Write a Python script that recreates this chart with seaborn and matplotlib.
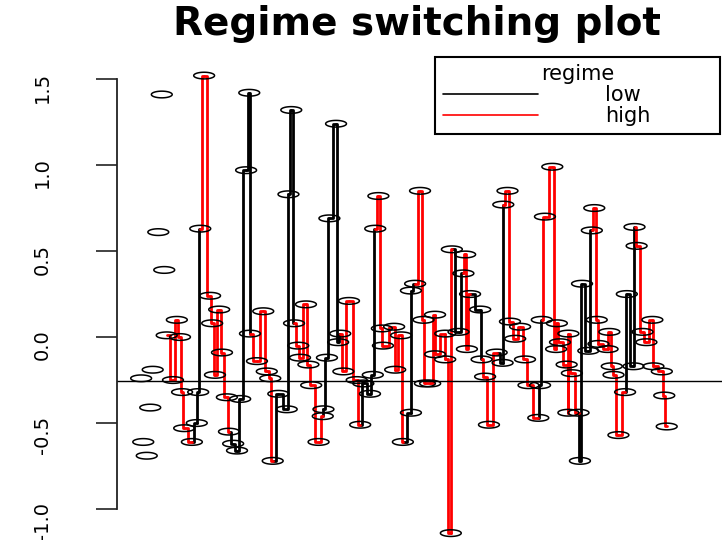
import numpy as np
import pandas as pd
import matplotlib
matplotlib.use("Agg")
import matplotlib.pyplot as plt
from matplotlib.path import Path
import seaborn as sns

t = [0.0, 0.6, 1.6, 2.6, 3.3, 4.9, 5.9, 6.6, 7.3, 9.1,
     10.2, 11.1, 11.7, 12.3, 14.5, 15.9, 16.3, 16.9, 18.0, 19.7,
     20.3, 21.1, 22.3, 23.1, 24.5, 25.1, 26.3, 27.4, 28.3, 30.0,
     30.9, 31.1, 33.1, 34.9, 35.9, 36.9, 37.6, 39.2, 41.6, 42.1,
     42.9, 43.7, 44.9, 45.4, 47.1, 47.8, 48.6, 50.7, 51.9, 52.1,
     53.1, 53.8, 55.7, 56.3, 56.9, 57.8, 59.4, 61.6, 62.6, 63.5,
     65.4, 66.2, 66.9, 67.8, 68.8, 69.1, 72.3, 72.6, 74.3, 74.8,
     77.1, 77.1, 78.3, 79.7, 80.7, 81.1, 82.6, 84.0, 84.0, 86.9,
     86.9, 88.5, 88.8, 90.7, 92.1, 92.6, 93.1, 94.0, 96.9, 97.3,
     98.3, 99.4, 101.6, 103.3, 103.5, 104.7, 105.4, 106.9, 108.3, 109.7,
     110.7, 113.5, 114.0, 114.5, 115.4, 117.5, 118.6, 118.8, 119.7, 121.6,
     122.1, 122.1, 123.1, 125.0, 125.4, 126.0, 127.8, 128.8, 129.5, 130.2,
     130.7, 133.3, 133.8, 134.5, 135.0, 136.4, 138.3, 138.8, 140.7, 141.0,
     141.6, 143.3, 144.4, 146.1, 146.4, 148.8, 149.5, 150.2]

# observed values
value = [-0.24, -0.61, -0.69, -0.41, -0.19, 0.61, 1.41, 0.39, 0.01, -0.25,
         0.10, 0.00, -0.32, -0.53, -0.61, -0.50, -0.32, 0.63, 1.52, 0.24,
         0.08, -0.22, 0.16, -0.09, -0.35, -0.55, -0.62, -0.66, -0.36, 0.97,
         1.42, 0.02, -0.14, 0.15, -0.20, -0.24, -0.72, -0.33, -0.42, 0.83,
         1.32, 0.08, -0.05, -0.12, 0.19, -0.16, -0.28, -0.61, -0.46, -0.42,
         -0.12, 0.69, 1.24, -0.03, 0.02, -0.20, 0.21, -0.25, -0.51, -0.27,
         -0.33, -0.22, 0.63, 0.82, 0.05, -0.05, 0.06, -0.19, 0.01, -0.61,
         -0.44, 0.27, 0.31, 0.85, 0.10, -0.27, -0.27, 0.13, -0.10, 0.02,
         -0.13, -1.14, 0.51, 0.03, 0.37, 0.48, -0.07, 0.25, 0.16, -0.13,
         -0.23, -0.51, -0.09, -0.15, 0.77, 0.85, 0.09, -0.01, 0.06, -0.13,
         -0.28, -0.47, -0.28, 0.10, 0.70, 0.99, -0.07, 0.08, -0.03, -0.16,
         -0.44, 0.02, -0.21, -0.44, -0.72, 0.31, -0.08, 0.62, 0.75, 0.10,
         -0.04, -0.07, 0.03, -0.17, -0.22, -0.57, -0.32, 0.25, -0.17, 0.64,
         0.53, 0.03, -0.03, 0.10, -0.17, -0.20, -0.34, -0.52]

# regime of the step ending at each observation (None = no line drawn)
N, L, H = None, "low", "high"
regime = [N, N, N, N, N, N, N, N, N, H,
          H, H, H, H, H, L, L, L, H, H,
          H, H, H, H, H, H, L, L, L, L,
          L, L, H, H, H, H, H, L, L, L,
          L, L, H, H, H, H, H, H, H, L,
          L, L, L, L, L, H, H, H, H, L,
          L, L, L, H, H, H, H, H, H, H,
          L, L, L, H, H, H, H, H, H, H,
          H, H, H, L, L, H, H, H, L, L,
          H, H, H, L, L, H, H, H, H, H,
          H, H, L, L, H, H, H, H, H, H,
          H, H, H, H, L, L, L, L, H, H,
          H, H, H, H, H, H, H, L, L, L,
          H, H, H, H, H, H, H, H]

threshold = -0.255
regime_order = ["low", "high"]
regime_colors = {"low": "black", "high": "red"}

df = pd.DataFrame({"t": t, "value": value})

# one little 2-point step per observation, coloured by regime
rows = []
for i in range(1, len(t)):
    if regime[i] is None:
        continue
    rows.append({"seg": i, "t": t[i - 1], "value": value[i - 1], "regime": regime[i]})
    rows.append({"seg": i, "t": t[i], "value": value[i], "regime": regime[i]})
seg_df = pd.DataFrame(rows)

sns.set_style("white")
plt.rcParams["font.family"] = ["DejaVu Sans"]
plt.rcParams["text.color"] = "black"

fig = plt.figure(figsize=(7.22, 5.40), dpi=100)
ax = fig.add_axes([117 / 722, 0, 605 / 722, 483 / 540])

sns.lineplot(data=seg_df, x="t", y="value", hue="regime", hue_order=regime_order,
             palette=regime_colors, units="seg", estimator=None, sort=False,
             drawstyle="steps-mid", linewidth=2.0, ax=ax)

# open, wide ellipse markers like the stretched R circles
theta = np.linspace(0, 2 * np.pi, 60)
ellipse = Path(np.column_stack([np.cos(theta), 0.32 * np.sin(theta)]), closed=True)
sns.scatterplot(data=df, x="t", y="value", marker=ellipse, s=225,
                facecolor="none", edgecolor="black", linewidth=1.1,
                legend=False, ax=ax, zorder=3)

ax.axhline(threshold, color="black", lw=1)

ax.set_xlim(-6.9, 166)
ax.set_ylim(-1.18, 1.628)
ax.set_xlabel("")
ax.set_ylabel("")
ax.set_xticks([])
ax.set_yticks([-1.0, -0.5, 0.0, 0.5, 1.0, 1.5])
ax.set_yticklabels(["-1.0", "-0.5", "0.0", "0.5", "1.0", "1.5"])
ax.tick_params(axis="y", labelrotation=90, length=15, width=1.2, pad=32,
               labelsize=14, direction="out", left=True, colors="#222222",
               labelcolor="black")
for s in ["top", "right", "bottom"]:
    ax.spines[s].set_visible(False)
ax.spines["left"].set_bounds(-1.0, 1.5)
ax.spines["left"].set_linewidth(1.3)
ax.spines["left"].set_color("#222222")

# legend like R's legend box, top right
handles, labels = ax.get_legend_handles_labels()
leg = ax.legend(handles, labels, title="regime", loc="upper left",
                bbox_to_anchor=(0.526, 1.0, 0.47, 0.0), mode="expand",
                fontsize=15, title_fontsize=15, handlelength=4.6,
                handletextpad=3.2, labelspacing=0.05, borderpad=0.35,
                frameon=True, fancybox=False, edgecolor="black",
                framealpha=1, borderaxespad=0)
leg.get_frame().set_linewidth(1.5)
for line in leg.get_lines():
    line.set_linewidth(1.2)

fig.text(0.577, 0.99, "Regime switching plot", ha="center", va="top",
         fontsize=28, fontweight="bold", color="black")

fig.savefig("out.png", dpi=100)
